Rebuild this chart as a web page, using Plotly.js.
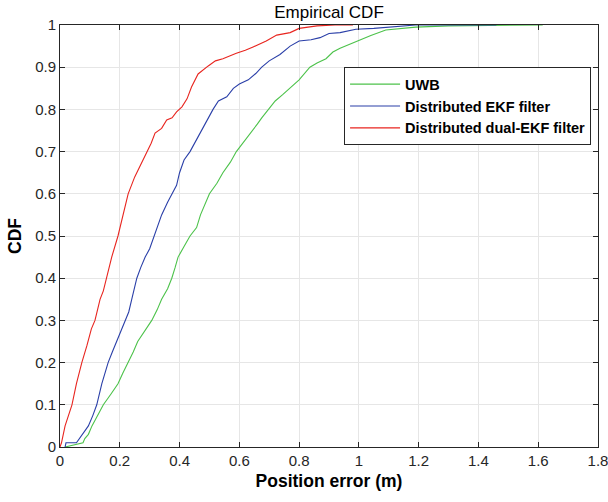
<!DOCTYPE html>
<html>
<head>
<meta charset="utf-8">
<script src="https://cdn.plot.ly/plotly-3.0.1.min.js"></script>
<style>html,body{margin:0;padding:0;background:#fff;}#chart{width:608px;height:502px;}</style>
</head>
<body>
<div id="chart"></div>
<script>
var seriesNames = ["UWB", "Distributed EKF filter", "Distributed dual-EKF filter"];
var xTicks = [0, 0.2, 0.4, 0.6, 0.8, 1, 1.2, 1.4, 1.6, 1.8];
var yTicks = [0, 0.1, 0.2, 0.3, 0.4, 0.5, 0.6, 0.7, 0.8, 0.9, 1];

var uwbX = [0.017, 0.04, 0.077, 0.083, 0.095, 0.107, 0.125, 0.145, 0.17, 0.194, 0.21, 0.228, 0.245, 0.26, 0.285, 0.307, 0.325, 0.34, 0.36, 0.374, 0.385, 0.395, 0.415, 0.435, 0.457, 0.47, 0.50, 0.525, 0.545, 0.57, 0.59, 0.612, 0.63, 0.646, 0.66, 0.675, 0.696, 0.72, 0.745, 0.77, 0.80, 0.836, 0.86, 0.89, 0.913, 0.937, 0.97, 0.995, 1.04, 1.09, 1.19, 1.3, 1.615];
var uwbY = [0, 0.004, 0.01, 0.02, 0.03, 0.05, 0.075, 0.1, 0.125, 0.15, 0.175, 0.2, 0.225, 0.25, 0.275, 0.3, 0.325, 0.35, 0.375, 0.4, 0.425, 0.45, 0.475, 0.5, 0.52, 0.55, 0.6, 0.625, 0.65, 0.675, 0.7, 0.72, 0.735, 0.75, 0.765, 0.78, 0.8, 0.82, 0.835, 0.85, 0.87, 0.9, 0.91, 0.92, 0.936, 0.945, 0.955, 0.962, 0.975, 0.988, 0.995, 0.998, 1];

var ekfX = [0.017, 0.02, 0.055, 0.07, 0.085, 0.095, 0.11, 0.123, 0.14, 0.161, 0.175, 0.19, 0.205, 0.218, 0.23, 0.24, 0.257, 0.27, 0.285, 0.30, 0.315, 0.34, 0.36, 0.375, 0.39, 0.40, 0.415, 0.435, 0.45, 0.474, 0.49, 0.512, 0.53, 0.558, 0.58, 0.60, 0.63, 0.655, 0.675, 0.70, 0.736, 0.77, 0.80, 0.84, 0.87, 0.90, 0.937, 0.99, 1.05, 1.19, 1.3, 1.46];
var ekfY = [0, 0.01, 0.01, 0.025, 0.04, 0.05, 0.075, 0.1, 0.15, 0.2, 0.225, 0.25, 0.275, 0.3, 0.32, 0.35, 0.4, 0.425, 0.45, 0.47, 0.5, 0.55, 0.58, 0.6, 0.62, 0.65, 0.68, 0.7, 0.72, 0.75, 0.77, 0.8, 0.82, 0.83, 0.85, 0.86, 0.87, 0.885, 0.9, 0.915, 0.93, 0.95, 0.962, 0.965, 0.97, 0.98, 0.982, 0.99, 0.992, 1, 1, 1];

var dualX = [0, 0.005, 0.017, 0.03, 0.04, 0.055, 0.073, 0.09, 0.105, 0.117, 0.134, 0.145, 0.156, 0.173, 0.194, 0.21, 0.228, 0.25, 0.27, 0.29, 0.305, 0.318, 0.34, 0.357, 0.375, 0.39, 0.408, 0.425, 0.44, 0.462, 0.48, 0.496, 0.52, 0.545, 0.59, 0.62, 0.646, 0.69, 0.725, 0.77, 0.80, 0.86, 0.92, 0.98];
var dualY = [0, 0.01, 0.05, 0.08, 0.1, 0.15, 0.2, 0.24, 0.28, 0.3, 0.35, 0.37, 0.4, 0.45, 0.5, 0.55, 0.6, 0.64, 0.67, 0.7, 0.72, 0.744, 0.755, 0.775, 0.78, 0.794, 0.806, 0.825, 0.853, 0.884, 0.895, 0.903, 0.915, 0.92, 0.933, 0.94, 0.948, 0.962, 0.976, 0.982, 0.992, 0.998, 1, 1];

var colors = ["#4cc24a", "#2a3fa8", "#e8251f"];

var traces = [
  {x: uwbX, y: uwbY, name: seriesNames[0]},
  {x: ekfX, y: ekfY, name: seriesNames[1]},
  {x: dualX, y: dualY, name: seriesNames[2]}
].map(function(t, i){
  t.type = "scatter"; t.mode = "lines";
  t.line = {color: colors[i], width: 1.1};
  return t;
});

var FONT = "Liberation Sans, Arial, Helvetica, sans-serif";
var axisCommon = {
  showgrid: true, gridcolor: "#e6e6e6", gridwidth: 1,
  zeroline: false, showline: true, linecolor: "#262626", linewidth: 1,
  mirror: "ticks", ticks: "inside", ticklen: 5, tickcolor: "#262626",
  ticklabeloverflow: "allow",
  tickfont: {family: FONT, size: 15, color: "#262626"}
};

var layout = {
  width: 608, height: 502,
  margin: {l: 60, r: 10, t: 25, b: 55},
  paper_bgcolor: "#fff", plot_bgcolor: "#fff",
  title: {text: "Empirical CDF", x: 0.5, xref: "paper", xanchor: "center", y: 0.976, yref: "container", yanchor: "middle",
          font: {family: FONT, size: 17, color: "#000"}},
  xaxis: Object.assign({}, axisCommon, {
    range: [0, 1.8], tickvals: xTicks, ticktext: xTicks.map(String),
    title: {text: "<b>Position error (m)</b>", standoff: 6, font: {family: FONT, size: 17.5, color: "#000"}}
  }),
  yaxis: Object.assign({}, axisCommon, {
    range: [0, 1], tickvals: yTicks, ticktext: yTicks.map(String),
    title: {text: "<b>CDF</b>", standoff: 9, font: {family: FONT, size: 17.5, color: "#000"}}
  }),
  showlegend: true,
  legend: {x: 0.528, y: 0.900, xanchor: "left", yanchor: "top", bgcolor: "#fff", bordercolor: "#262626", borderwidth: 1,
           font: {family: FONT, size: 14.5, color: "#000", weight: "bold"},
           tracegroupgap: 0, itemwidth: 50},
};

Plotly.newPlot("chart", traces, layout, {displayModeBar: false, staticPlot: true});
</script>
</body>
</html>
